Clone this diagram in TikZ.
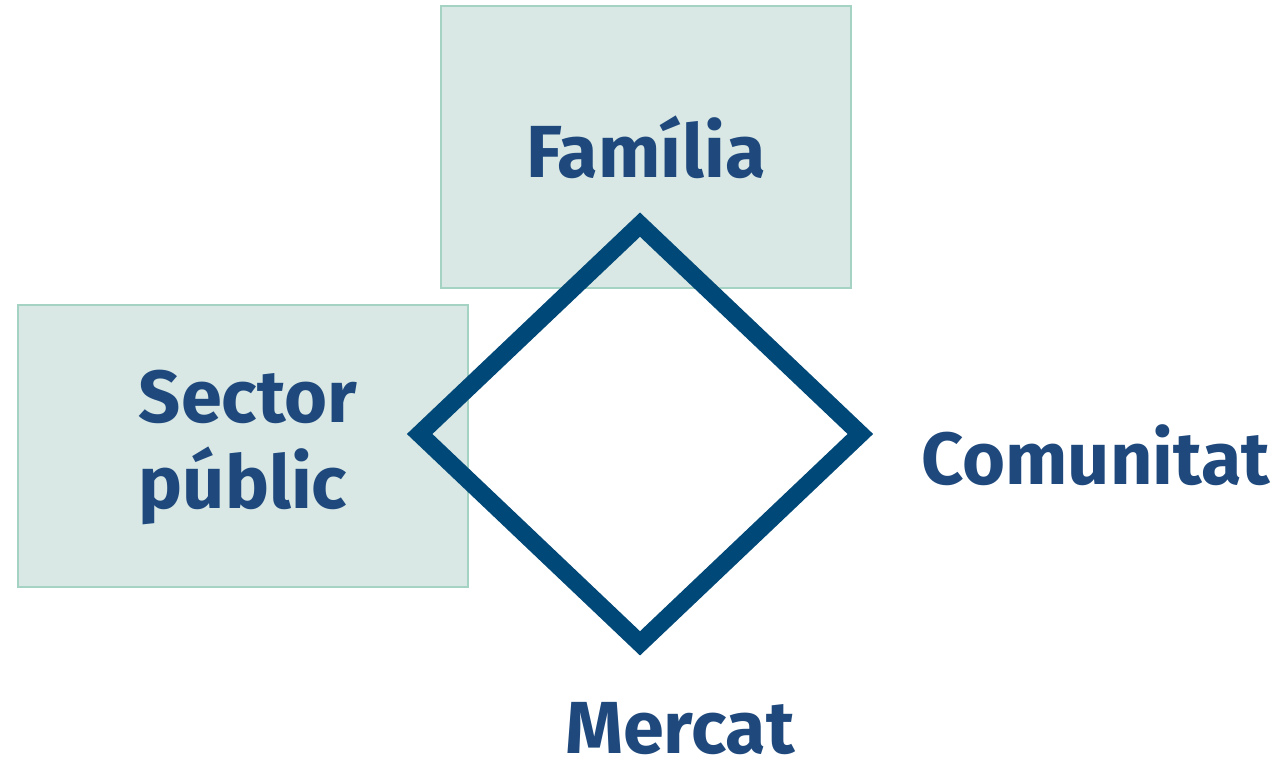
\documentclass[tikz,border=0pt]{standalone}
\usepackage{fontspec}
\setmainfont{Fira Sans}
\usetikzlibrary{positioning,shapes.geometric}
\definecolor{boxfill}{HTML}{D9E8E5}
\definecolor{boxline}{HTML}{A5D3C3}
\definecolor{diamline}{HTML}{004877}
\definecolor{labtext}{HTML}{1F497D}
\tikzset{
    sphere/.style={draw=boxline,fill=boxfill,line width=1.5pt,
        minimum height=5.64cm,inner sep=0pt},
    lab/.style={text=labtext,font=\fontsize{42}{49}\selectfont\bfseries,inner sep=0pt}
}

\begin{document}
\begin{tikzpicture}[]
    \useasboundingbox (0,0) rectangle (25.56,-15.28);
    \node[sphere,minimum width=8.2cm] (fam) at (12.92,-2.94) {};
    \node[sphere,minimum width=9.0cm] (pub) at (4.86,-8.92) {};
    \node[lab] (famtxt) at (fam.center) {Família};
    \node[lab,align=left] (pubtxt) at (4.96,-8.95) {Sector\\públic};
    \node[diamond,draw=diamline,line width=10pt,minimum width=8.96cm,
        minimum height=8.52cm,inner sep=0pt] (diam) at (12.8,-8.68) {};
    \node[lab,anchor=west] (com) at (18.42,-9.1) {Comunitat};
    \node[lab] (mer) at (13.6,-14.58) {Mercat};
\end{tikzpicture}
\end{document}
